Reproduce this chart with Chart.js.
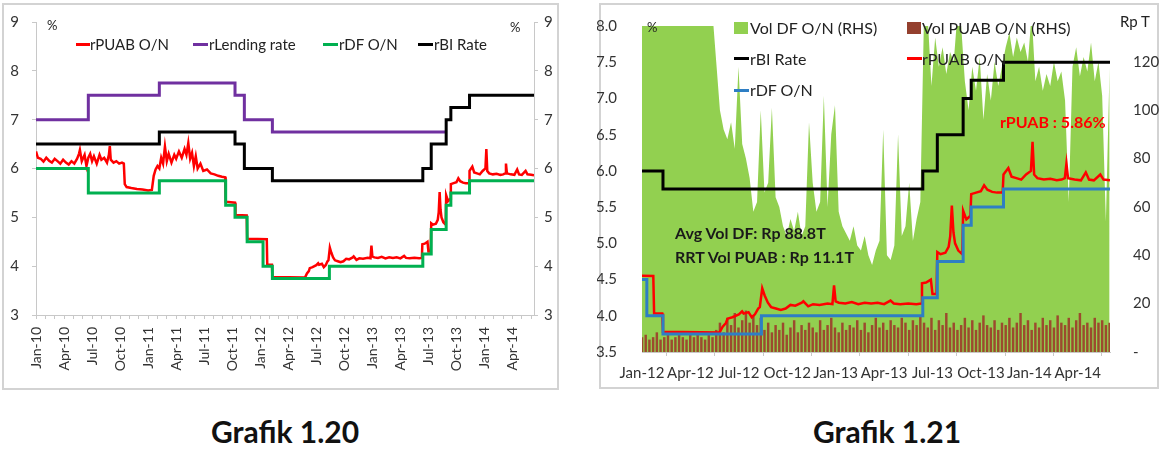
<!DOCTYPE html>
<html>
<head>
<meta charset="utf-8">
<script src="https://cdn.jsdelivr.net/npm/chart.js@4.4.0/dist/chart.umd.min.js"></script>
<style>
  body { margin: 0; background: #fff; font-family: Lato, sans-serif; }
  #page { position: relative; width: 1164px; height: 456px; overflow: hidden; background: #fff; }
  .box { position: absolute; border: 2px solid #d3d3d3; box-sizing: border-box; }
  canvas { position: absolute; }
  .t { position: absolute; white-space: nowrap; color: #222; line-height: 1; }
  .sw { position: absolute; }
  .cap { position: absolute; width: 300px; text-align: center; font-weight: bold; font-size: 30px; color: #111; line-height: 1; }
</style>
</head>
<body>
<div id="page">
  <div class="box" style="left:2px;top:3px;width:557px;height:387px"></div>
  <div class="box" style="left:599px;top:3px;width:560px;height:386px"></div>
  <canvas id="c1" width="560" height="392" style="left:0;top:0"></canvas>
  <canvas id="c2" width="563" height="392" style="left:597px;top:0"></canvas>

  <!-- Grafik 1.20 : legenda dan label -->
  <div class="t" style="left:47px;top:19px;font-size:13px">%</div>
  <div class="t" style="left:510px;top:21px;font-size:13px">%</div>
  <div class="sw" style="left:76px;top:43px;width:14px;height:3px;background:#FF0000"></div>
  <div class="t" style="left:90px;top:37px;font-size:15px">rPUAB O/N</div>
  <div class="sw" style="left:193px;top:43px;width:15px;height:3px;background:#7030A0"></div>
  <div class="t" style="left:209px;top:37px;font-size:15px">rLending rate</div>
  <div class="sw" style="left:323px;top:43px;width:15px;height:3px;background:#00B050"></div>
  <div class="t" style="left:339px;top:37px;font-size:15px">rDF O/N</div>
  <div class="sw" style="left:418px;top:43px;width:15px;height:3px;background:#000"></div>
  <div class="t" style="left:434px;top:37px;font-size:15px">rBI Rate</div>

  <!-- Grafik 1.21 : legenda dan label -->
  <div class="t" style="left:647px;top:21px;font-size:13px">%</div>
  <div class="t" style="left:1120px;top:14px;font-size:15px">Rp T</div>
  <div class="sw" style="left:734px;top:22px;width:14px;height:12px;background:#92D050"></div>
  <div class="t" style="left:750px;top:20px;font-size:16px">Vol DF O/N (RHS)</div>
  <div class="sw" style="left:907px;top:22px;width:14px;height:12px;background:#94402E"></div>
  <div class="t" style="left:922px;top:20px;font-size:16px">Vol PUAB O/N (RHS)</div>
  <div class="sw" style="left:734px;top:57px;width:15px;height:3px;background:#000"></div>
  <div class="t" style="left:750px;top:51px;font-size:16px">rBI Rate</div>
  <div class="sw" style="left:907px;top:57px;width:15px;height:3px;background:#FF0000"></div>
  <div class="t" style="left:922px;top:51px;font-size:16px">rPUAB O/N</div>
  <div class="sw" style="left:734px;top:89px;width:15px;height:3px;background:#2E7EC4"></div>
  <div class="t" style="left:750px;top:82px;font-size:16px">rDF O/N</div>
  <div class="t" style="left:1000px;top:114px;font-size:16px;font-weight:bold;color:#FF0000">rPUAB : 5.86%</div>
  <div class="t" style="left:675px;top:225px;font-size:16px;font-weight:bold;color:#1a1a1a">Avg Vol DF: Rp 88.8T</div>
  <div class="t" style="left:675px;top:249px;font-size:16px;font-weight:bold;color:#1a1a1a">RRT Vol PUAB : Rp 11.1T</div>

  <div class="cap" style="left:135px;top:416px">Grafik 1.20</div>
  <div class="cap" style="left:737px;top:416px">Grafik 1.21</div>
</div>

<script>
// label kuartal
const quartersL = ['Jan-10','Apr-10','Jul-10','Oct-10','Jan-11','Apr-11','Jul-11','Oct-11','Jan-12',
                   'Apr-12','Jul-12','Oct-12','Jan-13','Apr-13','Jul-13','Oct-13','Jan-14','Apr-14'];
const quartersR = ['Jan-12','Apr-12','Jul-12','Oct-12','Jan-13','Apr-13','Jul-13','Oct-13','Jan-14','Apr-14'];

// x = bulan sejak Jan-2010
const biX = [0, 13.2, 21.3, 22.3, 25.3, 41.4, 42.3, 43.9, 44.4, 46.4, 53.3];
const biY = [6.5, 6.75, 6.5, 6.0, 5.75, 6.0, 6.5, 7.0, 7.25, 7.5, 7.5];

const lendX = [0, 5.6, 13.2, 21.3, 22.3, 25.3, 43.9];
const lendY = [7.0, 7.5, 7.75, 7.5, 7.0, 6.75, 6.75];

const dfX = [0, 5.6, 13.2, 20.3, 21.3, 22.6, 24.3, 25.3, 31.4, 41.4, 42.3, 43.9, 44.4, 46.4, 53.3];
const dfY = [6.0, 5.5, 5.75, 5.25, 5.0, 4.5, 4.0, 3.75, 4.0, 4.25, 4.75, 5.25, 5.5, 5.75, 5.75];

const puabX = [0, 0.2, 0.5, 0.8, 1.1, 1.4, 1.7, 2.0, 2.3, 2.6, 2.9, 3.2, 3.5, 3.8, 4.1, 4.4, 4.6, 4.7, 4.9, 5.2,
  5.4, 5.6, 5.8, 6.0, 6.2, 6.5, 6.8, 7.0, 7.3, 7.6, 7.8, 7.9, 8.0, 8.3, 8.6, 8.9, 9.2, 9.4, 9.5, 9.7,
  10.2, 10.8, 11.4, 12.0, 12.4, 12.6, 12.8, 13.0, 13.2, 13.4, 13.6, 13.8, 14.0, 14.2, 14.5, 14.8, 15.0, 15.3, 15.6, 15.9,
  16.1, 16.3, 16.5, 16.7, 16.9, 17.1, 17.3, 17.6, 17.9, 18.3, 18.7, 19.1, 19.5, 19.9, 20.25, 20.3, 21.3, 21.35, 22.55, 22.6,
  24.7, 24.75, 25.25, 25.3, 28.8, 29.0, 29.2, 29.3, 29.6, 30.0, 30.2, 30.3, 30.6, 30.8, 31.0, 31.2, 31.3, 31.45, 31.6, 31.8,
  32.0, 32.3, 32.6, 32.9, 33.2, 33.5, 33.9, 34.0, 34.3, 34.6, 35.0, 35.5, 35.8, 35.9, 36.0, 36.2, 36.6, 37.0, 37.4, 37.8,
  38.2, 38.6, 39.0, 39.4, 39.6, 40.0, 40.5, 41.0, 41.3, 41.35, 41.6, 41.9, 42.0, 42.25, 42.3, 42.5, 42.8, 43.0, 43.1, 43.2,
  43.3, 43.4, 43.6, 43.85, 43.9, 44.1, 44.35, 44.4, 44.7, 45.0, 45.2, 45.4, 45.7, 46.0, 46.35, 46.4, 46.7, 46.9, 47.2, 47.5,
  47.8, 48.1, 48.2, 48.3, 48.5, 48.9, 49.3, 49.7, 50.0, 50.2, 50.3, 50.4, 50.8, 51.2, 51.5, 51.7, 52.0, 52.4, 52.6, 53.0, 53.3];
const puabY = [6.35, 6.22, 6.2, 6.14, 6.22, 6.16, 6.12, 6.2, 6.15, 6.1, 6.18, 6.12, 6.08, 6.15, 6.1, 6.2, 6.3, 6.38, 6.15, 6.28,
  6.05, 6.22, 6.3, 6.15, 6.25, 6.1, 6.28, 6.18, 6.22, 6.12, 6.28, 6.46, 6.18, 6.12, 6.15, 6.1, 6.12, 6.1, 5.68, 5.62,
  5.6, 5.58, 5.57, 5.55, 5.56, 5.85, 5.98, 6.05, 6.0, 6.22, 6.1, 6.45, 6.15, 6.3, 6.12, 6.28, 6.2, 6.35, 6.22, 6.4,
  6.28, 6.52, 6.2, 6.32, 6.05, 6.25, 6.0, 6.1, 5.95, 5.98, 5.9, 5.88, 5.85, 5.83, 5.82, 5.32, 5.3, 5.05, 5.04, 4.56,
  4.55, 4.03, 4.03, 3.78, 3.77, 3.85, 3.9, 3.96, 3.98, 4.02, 4.06, 4.03, 4.05, 3.98, 4.02, 4.1, 4.12, 4.38, 4.28, 4.18,
  4.12, 4.1, 4.08, 4.1, 4.15, 4.14, 4.18, 4.2, 4.13, 4.16, 4.15, 4.17, 4.16, 4.42, 4.2, 4.18, 4.17, 4.19, 4.16, 4.18,
  4.17, 4.18, 4.16, 4.21, 4.17, 4.16, 4.17, 4.16, 4.17, 4.45, 4.46, 4.5, 4.3, 4.3, 4.88, 4.85, 4.87, 4.95, 5.1, 5.52,
  5.15, 5.0, 4.9, 4.85, 5.45, 5.33, 5.38, 5.68, 5.7, 5.72, 5.8, 5.74, 5.71, 5.7, 5.7, 5.95, 6.04, 5.92, 5.9, 5.88,
  5.95, 6.0, 6.4, 5.95, 5.9, 5.88, 5.89, 5.87, 5.88, 5.9, 6.1, 5.9, 5.88, 5.87, 5.98, 5.88, 5.87, 5.95, 5.88, 5.87, 5.86];

// volume mingguan mulai Jan-2012 (Rp T)
const volDF = [140, 140, 140, 140, 140, 140, 140, 140, 140, 140, 140, 140, 140, 140, 140, 140, 140, 140, 140, 140,
  120, 100, 92, 88, 95, 84, 118, 86, 80, 72, 58, 62, 100, 66, 70, 101, 64, 60, 52, 48,
  55, 50, 58, 48, 52, 95, 70, 58, 62, 106, 60, 90, 102, 58, 52, 49, 46, 52, 44, 42,
  48, 40, 36, 42, 46, 92, 40, 38, 44, 90, 48, 52, 70, 46, 55, 62, 140, 138, 110, 130,
  118, 126, 115, 124, 120, 140, 135, 112, 100, 118, 108, 122, 96, 115, 104, 120, 110, 118, 126, 132,
  122, 130, 124, 128, 120, 140, 112, 118, 108, 115, 110, 120, 112, 116, 104, 62, 118, 126, 114, 122,
  116, 128, 112, 120, 106, 54, 118];
const volPUAB = [6, 7, 5, 6, 8, 5, 6, 7, 5, 6, 7, 6, 5, 7, 6, 8, 6, 5, 7, 6,
  9, 12, 8, 14, 11, 16, 10, 13, 17, 12, 15, 11, 14, 9, 12,
  8, 11, 9, 12, 7, 10, 13, 8, 11, 9, 12, 10, 8, 13, 9, 11, 14, 10, 8, 12,
  9, 11, 10, 13, 9, 12, 8, 11, 14, 10, 12, 9, 13, 11, 10, 14, 12, 9, 13, 11, 15,
  12, 10, 14, 9, 13, 11, 16, 10, 12, 9, 11, 14, 10, 13, 9, 12, 15, 11, 10, 13,
  9, 12, 11, 14, 10, 12, 16, 11, 13, 9, 12, 10, 14, 11, 13, 10, 15, 12, 11, 14,
  10, 13, 16, 11, 12, 10, 14, 12, 13, 11, 12];

Chart.defaults.font.family = 'Lato';
Chart.defaults.color = '#333';

const pts = (xs, ys) => xs.map((x, i) => ({ x: x, y: ys[i] }));
const weekly = vals => vals.map((v, i) => ({ x: 24 + i * 7 / 30.44, y: v }));
const gray = '#c8c8c8';

// Grafik 1.20
new Chart(document.getElementById('c1'), {
  type: 'line',
  data: {
    datasets: [
      { label: 'rBI Rate', data: pts(biX, biY), borderColor: '#000', borderWidth: 3, stepped: true, order: 1 },
      { label: 'rDF O/N', data: pts(dfX, dfY), borderColor: '#00B050', borderWidth: 3, stepped: true, order: 2 },
      { label: 'rLending rate', data: pts(lendX, lendY), borderColor: '#7030A0', borderWidth: 3, stepped: true, order: 3 },
      { label: 'rPUAB O/N', data: pts(puabX, puabY), borderColor: '#FF0000', borderWidth: 2.5, order: 4 }
    ]
  },
  options: {
    responsive: false,
    animation: false,
    elements: { point: { radius: 0 }, line: { tension: 0 } },
    layout: { padding: { left: 0, right: 0, top: 15, bottom: 7 } },
    plugins: { legend: { display: false }, tooltip: { enabled: false } },
    scales: {
      x: {
        type: 'linear', min: 0, max: 53.3,
        afterBuildTicks: axis => { axis.ticks = Array.from({ length: 54 }, (_, i) => ({ value: i })); },
        afterFit: s => { s.height = 70; },
        ticks: {
          autoSkip: false, minRotation: 90, maxRotation: 90, padding: 8, font: { size: 14 },
          callback: v => (v % 3 === 0 ? quartersL[v / 3] : '')
        },
        grid: { drawOnChartArea: false, tickLength: 4, tickColor: gray },
        border: { color: gray }
      },
      y: {
        position: 'left', min: 3, max: 9,
        afterFit: s => { s.width = 36; },
        ticks: { stepSize: 1, padding: 13, font: { size: 15 } },
        grid: { drawOnChartArea: false, tickLength: 4, tickColor: gray },
        border: { color: gray }
      },
      y1: {
        position: 'right', min: 3, max: 9,
        afterFit: s => { s.width = 26; },
        ticks: { stepSize: 1, padding: 6, font: { size: 15 } },
        grid: { drawOnChartArea: false, tickLength: 4, tickColor: gray },
        border: { color: gray }
      }
    }
  }
});

// Grafik 1.21
new Chart(document.getElementById('c2'), {
  type: 'line',
  data: {
    datasets: [
      { type: 'line', label: 'rDF O/N', data: pts(dfX, dfY), borderColor: '#2E7EC4', borderWidth: 3, stepped: true, yAxisID: 'y', order: 1 },
      { type: 'line', label: 'rPUAB O/N', data: pts(puabX, puabY), borderColor: '#FF0000', borderWidth: 2.5, yAxisID: 'y', order: 2 },
      { type: 'line', label: 'rBI Rate', data: pts(biX, biY), borderColor: '#000', borderWidth: 3, stepped: true, yAxisID: 'y', order: 3 },
      { type: 'bar', label: 'Vol PUAB O/N (RHS)', data: weekly(volPUAB), backgroundColor: '#9C4A2E', barThickness: 1.8, yAxisID: 'y2', order: 4 },
      { type: 'line', label: 'Vol DF O/N (RHS)', data: weekly(volDF), borderWidth: 0, borderColor: '#92D050',
        backgroundColor: '#92D050', fill: 'origin', yAxisID: 'y2', order: 5 }
    ]
  },
  options: {
    responsive: false,
    animation: false,
    elements: { point: { radius: 0 }, line: { tension: 0 } },
    layout: { padding: { left: 0, right: 0, top: 15, bottom: 0 } },
    plugins: { legend: { display: false }, tooltip: { enabled: false } },
    scales: {
      x: {
        type: 'linear', min: 24, max: 53, offset: false,
        afterBuildTicks: axis => { axis.ticks = quartersR.map((q, i) => ({ value: 24 + 3 * i })); },
        afterFit: s => { s.height = 40; },
        ticks: { autoSkip: false, maxRotation: 0, padding: 8, font: { size: 15 },
          callback: v => quartersR[Math.round((v - 24) / 3)] },
        grid: { drawOnChartArea: false, tickLength: 4, tickColor: gray },
        border: { color: gray }
      },
      y: {
        position: 'left', min: 3.5, max: 8,
        afterFit: s => { s.width = 45; },
        ticks: { stepSize: 0.5, padding: 17, font: { size: 15 }, callback: v => v.toFixed(1) },
        grid: { display: false },
        border: { display: false }
      },
      y2: {
        position: 'right', min: 0, max: 134.8,
        afterFit: s => { s.width = 50; },
        afterBuildTicks: axis => { axis.ticks = axis.ticks.filter(t => t.value % 20 === 0); },
        ticks: { stepSize: 20, padding: 15, font: { size: 15 }, callback: v => (v === 0 ? '-' : v) },
        grid: { display: false },
        border: { display: false }
      }
    }
  }
});
</script>
</body>
</html>
